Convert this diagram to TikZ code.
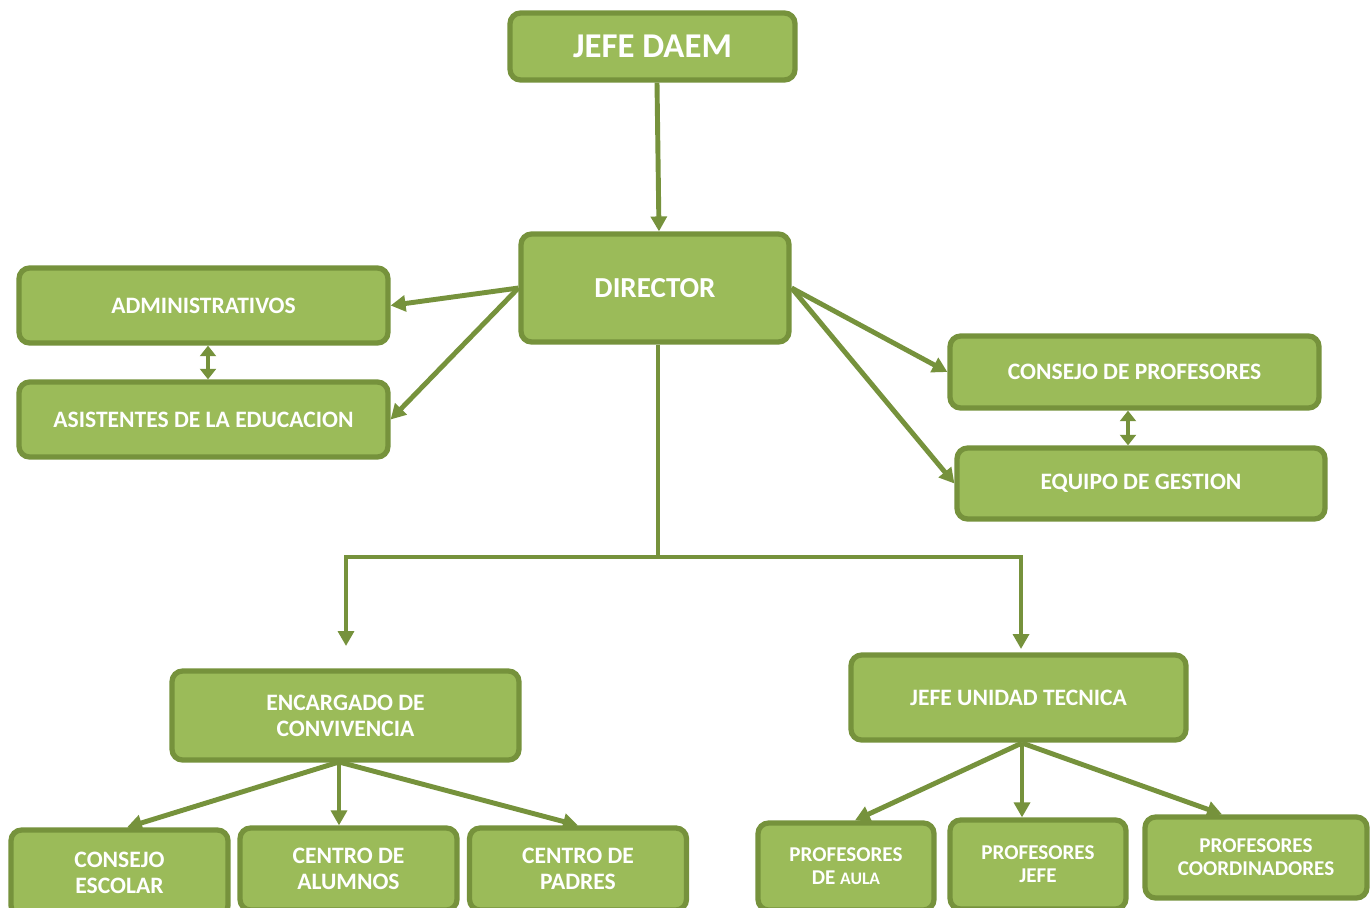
\documentclass[tikz,border=0pt]{standalone}
\usepackage{fontspec}
\setmainfont{Carlito}
\usetikzlibrary{arrows.meta}

\definecolor{cajaverde}{HTML}{9BBB59}
\definecolor{bordeverde}{HTML}{76923C}

\tikzset{
	caja/.style={draw=bordeverde, fill=cajaverde, line width=3pt, rounded corners=6pt,
		text=white, align=center, inner sep=2pt, font=\bfseries\fontsize{13.4}{14.7}\selectfont},
	flecha/.style={draw=bordeverde, line width=2.8pt, -{Triangle[length=8.5pt,width=9pt]}},
	doble/.style={draw=bordeverde, line width=2.8pt, {Triangle[length=6pt,width=9pt]}-{Triangle[length=6pt,width=9pt]}}
}

\begin{document}
\begin{tikzpicture}[x=0.02cm,y=-0.02cm]
						\clip (0,0) rectangle (1372,907);
						\fill[white] (0,0) rectangle (1372,907);
						
						% arriba
						\node[caja, minimum width=5.7cm, minimum height=1.34cm, font=\bfseries\fontsize{19.8}{22}\selectfont] (jefe) at (652.5,46.5) {JEFE DAEM};
						\node[caja, minimum width=5.36cm, minimum height=2.16cm, font=\bfseries\fontsize{16.5}{18}\selectfont] (director) at (655,288) {DIRECTOR};
						
						\node[caja, minimum width=7.38cm, minimum height=1.5cm] (admin) at (203.5,305.5) {ADMINISTRATIVOS};
						\node[caja, minimum width=7.38cm, minimum height=1.5cm] (asist) at (203.5,419.5) {ASISTENTES DE LA EDUCACION};
						
						\node[caja, minimum width=7.38cm, minimum height=1.44cm] (cprof) at (1134.5,372) {CONSEJO DE PROFESORES};
						\node[caja, minimum width=7.36cm, minimum height=1.42cm] (equipo) at (1141,483.5) {EQUIPO DE GESTION};
						
						% medio
						\node[caja, minimum width=6.94cm, minimum height=1.78cm] (encargado) at (345.5,715.5) {ENCARGADO DE\\CONVIVENCIA};
						\node[caja, minimum width=6.7cm, minimum height=1.7cm] (jut) at (1018.5,697.5) {JEFE UNIDAD TECNICA};
						
						% abajo
						\node[caja, minimum width=4.34cm, minimum height=1.72cm] (cescolar) at (119.5,873) {CONSEJO\\ESCOLAR};
						\node[caja, minimum width=4.34cm, minimum height=1.64cm] (calumnos) at (348.5,869) {CENTRO DE\\ALUMNOS};
						\node[caja, minimum width=4.34cm, minimum height=1.64cm] (cpadres) at (578,869) {CENTRO DE\\PADRES};
						
						\node[caja, minimum width=3.52cm, minimum height=1.74cm, font=\bfseries\fontsize{12}{13}\selectfont] (paula) at (846,866.5) {PROFESORES\\DE {\fontsize{10}{13}\selectfont AULA}};
						\node[caja, minimum width=3.52cm, minimum height=1.78cm, font=\bfseries\fontsize{12}{13}\selectfont] (pjefe) at (1038,864.5) {PROFESORES\\JEFE};
						\node[caja, minimum width=4.44cm, minimum height=1.62cm, font=\bfseries\fontsize{12}{13}\selectfont] (pcoord) at (1256,857.5) {PROFESORES\\COORDINADORES};
						
						% conectores
						\draw[flecha] ([xshift=0.09cm]jefe.south) -- ([xshift=0.08cm]director.north);
						\draw[flecha] (director.west) -- (admin.east);
						\draw[flecha] (director.west) -- (asist.east);
						\draw[doble] ([xshift=0.09cm]admin.south) -- ([xshift=0.09cm]asist.north);
						\draw[flecha] (director.east) -- (cprof.west);
						\draw[flecha] (director.east) -- (equipo.west);
						\draw[doble] ([xshift=-0.13cm]cprof.south) -- ([xshift=-0.13cm]cprof.south |- equipo.north);
						
						\coordinate (junta) at (658,557);
						\coordinate (encflecha) at (346,646);
						\coordinate (jutflecha) at (1021,649);
						\draw[draw=bordeverde, line width=2.8pt] (junta |- director.south) -- (junta);
						\draw[flecha] (junta) -| (encflecha);
						\draw[flecha] (junta) -| (jutflecha);
						
						\coordinate (encsalida) at (339,762);
						\draw[flecha] (encsalida) -- ([xshift=0.15cm]cescolar.north);
						\draw[flecha] (encsalida) -- (encsalida |- calumnos.north);
						\draw[flecha] (encsalida) -- (cpadres.north);
						
						\coordinate (jutsalida) at (1022,743);
						\draw[flecha] (jutsalida) -- ([xshift=0.18cm]paula.north);
						\draw[flecha] (jutsalida) -- (jutsalida |- pjefe.north);
						\draw[flecha] (jutsalida) -- ([xshift=-0.68cm]pcoord.north);
					\end{tikzpicture}
\end{document}
